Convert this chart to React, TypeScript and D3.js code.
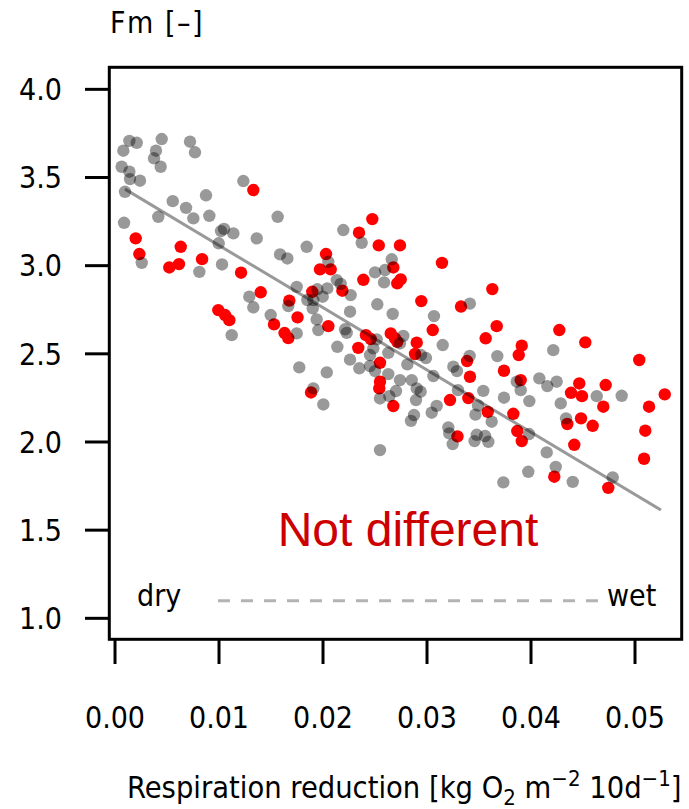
import React from "react";
import * as d3 from "d3";

// points: x = respiration reduction, y = Fm
const grayX = [0.00138, 0.00209, 0.0008, 0.00449, 0.00394, 0.00375, 0.00439, 0.00721, 0.00769, 0.00064, 0.00138, 0.00144, 0.0024, 0.00096, 0.00087, 0.00555, 0.00683, 0.00753, 0.00875, 0.00907, 0.00416, 0.01019, 0.01048, 0.01138, 0.00997, 0.01363, 0.01234, 0.01564, 0.01587, 0.01657, 0.01029, 0.00811, 0.00257, 0.01747, 0.01291, 0.0133, 0.01497, 0.01122, 0.01666, 0.01747, 0.01772, 0.02195, 0.02372, 0.01843, 0.02051, 0.02661, 0.025, 0.02596, 0.02587, 0.02132, 0.0217, 0.01945, 0.02041, 0.01997, 0.01849, 0.01907, 0.01901, 0.02266, 0.02522, 0.0226, 0.0267, 0.03067, 0.03412, 0.01939, 0.01955, 0.02212, 0.02228, 0.02138, 0.02516, 0.02772, 0.0274, 0.03151, 0.02628, 0.0226, 0.02452, 0.02942, 0.0299, 0.0341, 0.02484, 0.02036, 0.02349, 0.02452, 0.025, 0.02628, 0.02811, 0.03061, 0.03253, 0.03288, 0.0274, 0.02853, 0.02901, 0.02939, 0.02894, 0.02702, 0.02638, 0.02548, 0.01907, 0.02003, 0.03093, 0.03045, 0.02875, 0.02846, 0.03298, 0.03205, 0.03214, 0.03247, 0.03457, 0.03478, 0.03466, 0.0349, 0.02548, 0.03676, 0.04214, 0.03863, 0.03901, 0.0408, 0.04157, 0.04247, 0.03541, 0.0374, 0.03984, 0.04286, 0.04632, 0.04872, 0.04337, 0.03622, 0.03558, 0.0359, 0.03981, 0.04151, 0.04238, 0.03974, 0.03734, 0.04401, 0.04786];
const grayY = [3.708, 3.697, 3.652, 3.718, 3.652, 3.609, 3.561, 3.703, 3.643, 3.561, 3.533, 3.491, 3.482, 3.419, 3.243, 3.366, 3.328, 3.268, 3.399, 3.283, 3.277, 3.196, 3.208, 3.183, 3.127, 3.155, 3.48, 3.277, 3.064, 3.041, 3.007, 2.965, 3.016, 2.88, 2.824, 2.764, 2.72, 2.606, 2.771, 2.616, 2.423, 3.202, 3.13, 3.107, 3.022, 3.036, 2.962, 2.975, 2.905, 2.918, 2.896, 2.866, 2.871, 2.824, 2.805, 2.805, 2.758, 2.833, 2.781, 2.739, 2.726, 2.714, 2.785, 2.695, 2.635, 2.639, 2.619, 2.54, 2.582, 2.602, 2.559, 2.55, 2.506, 2.467, 2.493, 2.493, 2.476, 2.488, 2.531, 2.395, 2.418, 2.431, 2.402, 2.385, 2.44, 2.374, 2.427, 2.402, 2.351, 2.351, 2.304, 2.285, 2.238, 2.289, 2.26, 2.247, 2.304, 2.213, 2.205, 2.166, 2.153, 2.12, 2.294, 2.083, 2.049, 1.988, 2.005, 2.041, 2.155, 2.207, 1.954, 2.487, 2.521, 2.342, 2.294, 2.361, 2.317, 2.342, 2.29, 2.251, 2.232, 2.219, 2.26, 2.262, 2.134, 2.115, 2.034, 2.001, 2.045, 1.941, 1.859, 1.831, 1.771, 1.774, 1.799];

const redX = [0.0133, 0.00199, 0.00234, 0.00632, 0.00615, 0.00522, 0.00837, 0.01212, 0.01401, 0.01676, 0.00993, 0.01058, 0.01099, 0.01529, 0.01755, 0.0163, 0.01666, 0.02474, 0.02346, 0.02536, 0.0274, 0.02029, 0.01971, 0.02074, 0.02676, 0.03144, 0.02388, 0.02747, 0.02714, 0.01897, 0.02186, 0.02945, 0.03327, 0.02051, 0.03055, 0.02413, 0.02459, 0.02651, 0.02692, 0.02714, 0.02901, 0.02339, 0.02885, 0.03385, 0.02548, 0.02548, 0.02541, 0.02676, 0.01885, 0.03221, 0.03413, 0.03397, 0.03293, 0.03628, 0.0367, 0.03564, 0.03911, 0.03882, 0.04272, 0.04522, 0.05041, 0.0374, 0.03901, 0.04464, 0.04718, 0.04385, 0.0449, 0.05286, 0.04695, 0.05135, 0.03584, 0.0383, 0.04481, 0.04349, 0.04593, 0.03868, 0.03911, 0.04416, 0.05099, 0.05087, 0.04224, 0.04743];
const redY = [3.429, 3.155, 3.066, 3.107, 3.009, 2.99, 3.037, 2.96, 2.849, 2.802, 2.748, 2.72, 2.691, 2.667, 2.707, 2.618, 2.589, 3.264, 3.187, 3.115, 3.115, 3.066, 2.979, 2.979, 2.99, 3.016, 2.92, 2.922, 2.9, 2.852, 2.858, 2.799, 2.768, 2.657, 2.635, 2.606, 2.584, 2.616, 2.588, 2.568, 2.563, 2.534, 2.499, 2.459, 2.449, 2.342, 2.304, 2.204, 2.281, 2.238, 2.37, 2.249, 2.032, 2.867, 2.657, 2.588, 2.546, 2.493, 2.635, 2.565, 2.465, 2.404, 2.351, 2.332, 2.323, 2.279, 2.26, 2.27, 2.2, 2.2, 2.171, 2.16, 2.134, 2.102, 2.092, 2.062, 2.005, 1.984, 2.064, 1.905, 1.803, 1.74];

// fitted line end points
const fitX = [0.00096, 0.0525];
const fitY = [3.434, 1.614];

// dry -> wet gradient marker
const gradX = [0.0099, 0.0471];
const gradY = 1.1;

const xTicks = [0, 0.01, 0.02, 0.03, 0.04, 0.05];
const yTicks = [1.0, 1.5, 2.0, 2.5, 3.0, 3.5, 4.0];

const W = 689;
const H = 809;
const box = { left: 109.3, right: 681.7, top: 67.3, bottom: 639.3 };
const font = "'DejaVu Sans Condensed', 'DejaVu Sans', sans-serif";

export default function App() {
  const x = d3.scaleLinear().domain([-0.00055, 0.05449]).range([box.left, box.right]);
  const y = d3.scaleLinear().domain([0.881, 4.125]).range([box.bottom, box.top]);

  const fitLine = d3
    .line<number>()
    .x((d, i) => x(fitX[i]))
    .y(d => y(d));

  return (
    <svg
      width={W}
      height={H}
      style={{ position: "absolute", left: 0, top: 0, background: "#fff" }}
      fontFamily={font}
      fontStretch="condensed"
    >
      {/* y label */}
      <text x={110} y={33} fontSize={30} letterSpacing={1.5}>
        Fm [–]
      </text>

      {/* red points first, grey drawn over them */}
      {redX.map((d, i) => (
        <circle key={"r" + i} cx={x(d)} cy={y(redY[i])} r={6.2} fill="#f00" />
      ))}
      {grayX.map((d, i) => (
        <circle key={"g" + i} cx={x(d)} cy={y(grayY[i])} r={6.2} fill="rgba(0,0,0,0.4)" />
      ))}

      <path d={fitLine(fitY) || ""} stroke="rgba(0,0,0,0.4)" strokeWidth={3} fill="none" />

      {/* dry / wet */}
      <line
        x1={x(gradX[0])}
        x2={x(gradX[1])}
        y1={y(gradY)}
        y2={y(gradY)}
        stroke="#b3b3b3"
        strokeWidth={3}
        strokeDasharray="12,11"
      />
      <text x={137} y={606} fontSize={30}>
        dry
      </text>
      <text x={607} y={606} fontSize={30}>
        wet
      </text>

      <text
        x={408}
        y={546}
        fontSize={48}
        fill="#cd0000"
        textAnchor="middle"
        fontFamily="'Liberation Sans', Arial, sans-serif"
        fontStretch="normal"
      >
        Not different
      </text>

      {/* box */}
      <rect
        x={box.left}
        y={box.top}
        width={box.right - box.left}
        height={box.bottom - box.top}
        fill="none"
        stroke="#000"
        strokeWidth={3}
      />

      {/* y axis */}
      {yTicks.map(t => (
        <g key={"y" + t}>
          <line x1={85} x2={box.left} y1={y(t)} y2={y(t)} stroke="#000" strokeWidth={3} />
          <text x={62} y={y(t)} dy="0.36em" textAnchor="end" fontSize={30}>
            {t.toFixed(1)}
          </text>
        </g>
      ))}

      {/* x axis */}
      {xTicks.map(t => (
        <g key={"x" + t}>
          <line x1={x(t)} x2={x(t)} y1={box.bottom} y2={664} stroke="#000" strokeWidth={3} />
          <text x={x(t)} y={728} textAnchor="middle" fontSize={30}>
            {t.toFixed(2)}
          </text>
        </g>
      ))}

      <text x={127} y={798} fontSize={30.5}>
        Respiration reduction [kg O
        <tspan dy={7} fontSize={22}>2</tspan>
        <tspan dy={-7}> m</tspan>
        <tspan dy={-12} fontSize={22}>−2</tspan>
        <tspan dy={12}> 10d</tspan>
        <tspan dy={-12} fontSize={22}>−1</tspan>
        <tspan dy={12}>]</tspan>
      </text>
    </svg>
  );
}
